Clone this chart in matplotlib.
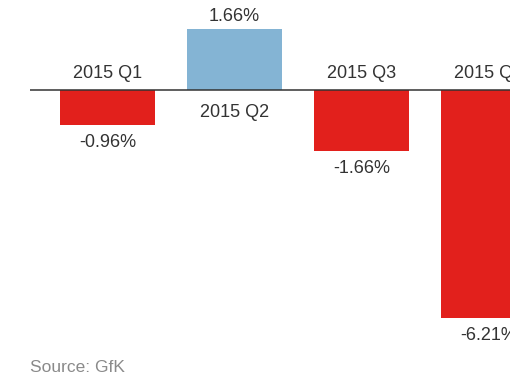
import matplotlib
matplotlib.use("Agg")
import matplotlib.pyplot as plt

quarters = ["2015 Q1", "2015 Q2", "2015 Q3", "2015 Q4"]
changes = [-0.96, 1.66, -1.66, -6.21]
value_labels = ["-0.96%", "1.66%", "-1.66%", "-6.21%"]

plt.rcParams['font.family'] = ['Liberation Sans', 'DejaVu Sans']

RED = "#e2201c"
BLUE = "#84b4d4"
TEXT = "#333333"

W, H = 520, 380
fig = plt.figure(figsize=(W / 100, H / 100), dpi=100)
# axes from x=30px to x=510px, full height (right part is cut off like the original)
ax = fig.add_axes([30 / W, 0, 480 / W, 1])
ax.axis("off")

px_per_unit = 127.0          # distance between bar centres in pixels
px_per_pct = 36.7            # vertical pixels per percentage point
x0 = (107.5 - 30) / px_per_unit
ax.set_xlim(-x0, -x0 + 480 / px_per_unit)
ax.set_ylim(-(H - 90) / px_per_pct, 90 / px_per_pct)

xs = list(range(len(quarters)))
colors = [BLUE if v > 0 else RED for v in changes]
ax.bar(xs, changes, width=95 / px_per_unit, color=colors, zorder=2)
ax.axhline(0, color=TEXT, lw=1.1, zorder=3)


def label(text, xy, dy):
    t = ax.annotate(text, xy, xytext=(0, dy), textcoords="offset pixels",
                    ha="center", va="baseline", fontsize=13, color=TEXT,
                    annotation_clip=False)
    t.set_clip_box(ax.bbox)
    t.set_clip_on(True)
    return t


for x, v, q, lab in zip(xs, changes, quarters, value_labels):
    if v < 0:
        label(q, (x, 0), 12)
        label(lab, (x, v), -22)
    else:
        label(q, (x, 0), -27)
        label(lab, (x, v), 8)

fig.text(30 / W, 1 - 372 / H, "Source: GfK", fontsize=12.5, color="#8a8a8a",
         ha="left", va="baseline")

fig.savefig("out.png", dpi=100, facecolor="white")
